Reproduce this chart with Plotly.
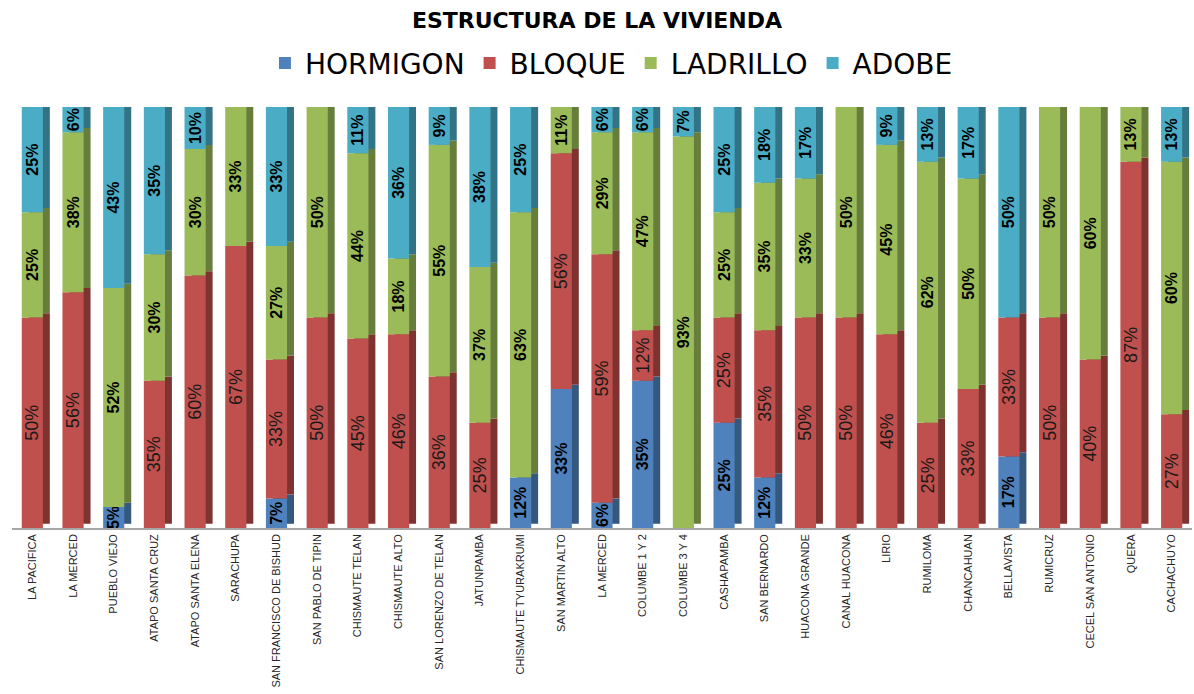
import numpy as np
import plotly.graph_objects as go

categories = ["LA PACIFICA", "LA MERCED", "PUEBLO VIEJO", "ATAPO SANTA CRUZ", "ATAPO SANTA ELENA",
              "SARACHUPA", "SAN FRANCISCO DE BISHUD", "SAN PABLO DE TIPIN", "CHISMAUTE TELAN",
              "CHISMAUTE ALTO", "SAN LORENZO DE TELAN", "JATUNPAMBA", "CHISMAUTE TYURAKRUMI",
              "SAN MARTIN ALTO", "LA MERCED", "COLUMBE 1 Y 2", "COLUMBE 3 Y 4", "CASHAPAMBA",
              "SAN BERNARDO", "HUACONA GRANDE", "CANAL HUACONA", "LIRIO", "RUMILOMA",
              "CHANCAHUAN", "BELLAVISTA", "RUMICRUZ", "CECEL SAN ANTONIO", "QUERA", "CACHACHUYO"]

hormigon = [0, 0, 5, 0, 0, 0, 7, 0, 0, 0, 0, 0, 12, 33, 6, 35, 0, 25, 12, 0, 0, 0, 0, 0, 17, 0, 0, 0, 0]
bloque   = [50, 56, 0, 35, 60, 67, 33, 50, 45, 46, 36, 25, 0, 56, 59, 12, 0, 25, 35, 50, 50, 46, 25, 33, 33, 50, 40, 87, 27]
ladrillo = [25, 38, 52, 30, 30, 33, 27, 50, 44, 18, 55, 37, 63, 11, 29, 47, 93, 25, 35, 33, 50, 45, 62, 50, 0, 50, 60, 13, 60]
adobe    = [25, 6, 43, 35, 10, 0, 33, 0, 11, 36, 9, 38, 25, 0, 6, 6, 7, 25, 18, 17, 0, 9, 13, 17, 50, 0, 0, 0, 13]

series_names = ["HORMIGON", "BLOQUE", "LADRILLO", "ADOBE"]
series_values = [hormigon, bloque, ladrillo, adobe]
front_colors = ["#4F81BD", "#C0504D", "#9BBB59", "#4BACC6"]
side_colors = ["#35587F", "#7F3331", "#677D3B", "#327385"]

x = np.arange(len(categories))
FONT = "Liberation Sans, Arial, sans-serif"

fig = go.Figure()

bases = []
cum = np.zeros(len(categories))
for vals in series_values:
    bases.append(cum.copy())
    cum = cum + np.array(vals)

# side/top faces (3D look)
for name, vals, base, col in zip(series_names, series_values, bases, side_colors):
    fig.add_trace(go.Bar(
        x=x, y=vals, base=base + 1.0, width=0.52, offset=-0.09,
        marker=dict(color=col, line=dict(width=0)),
        showlegend=False, hoverinfo="skip",
    ))

# front faces
for i, (name, vals, base, col) in enumerate(zip(series_names, series_values, bases, front_colors)):
    texts = [f"{v}%" if v > 0 else "" for v in vals]
    if name == "BLOQUE":
        tf = dict(family=FONT, size=18, color="#1a1a1a")
    else:
        tf = dict(family=FONT, size=16, color="#000000", weight="bold")
    fig.add_trace(go.Bar(
        x=x, y=vals, base=base, width=0.52, offset=-0.26, name=name,
        marker=dict(color=col, line=dict(width=0)),
        text=texts, textposition="inside", insidetextanchor="middle",
        textangle=-90, constraintext="none", textfont=tf,
    ))

fig.update_layout(
    width=1194, height=694,
    barmode="overlay",
    paper_bgcolor="white", plot_bgcolor="white",
    margin=dict(l=12, r=2, t=107, b=166, autoexpand=False),
    title=dict(text="<b>ESTRUCTURA DE LA VIVIENDA</b>", x=0.5, xanchor="center",
               y=(694 - 20) / 694, yanchor="middle", yref="container",
               font=dict(family="DejaVu Sans, sans-serif", size=22, color="#000000")),
    legend=dict(orientation="h", x=0.508, xanchor="center", y=1.104, yanchor="middle",
                font=dict(family="DejaVu Sans, sans-serif", size=28, color="#000000"),
                traceorder="normal", itemwidth=30),
    xaxis=dict(tickmode="array", tickvals=x, ticktext=categories, tickangle=-90,
               range=[-0.5, len(categories) - 0.5], automargin=False,
               tickfont=dict(family=FONT, size=11, color="#262626"),
               showline=True, linecolor="#A6A6A6", linewidth=1.5, ticks="", showgrid=False,
               zeroline=False),
    yaxis=dict(range=[0, 100], visible=False, showgrid=False, zeroline=False, automargin=False),
    showlegend=True,
)

fig.write_html("out.html", config={"displayModeBar": False},
               post_script="document.body.style.margin='0';document.body.style.padding='0';")
